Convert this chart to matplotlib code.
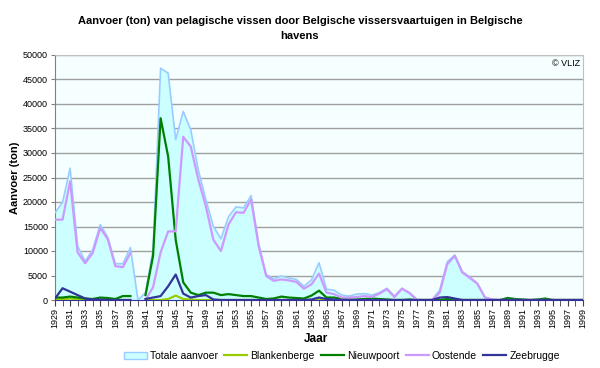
import numpy as np
import matplotlib.pyplot as plt
from matplotlib.patches import Patch
from matplotlib.lines import Line2D

plt.rcParams['font.family'] = ['Liberation Sans', 'DejaVu Sans']

nan = np.nan

jaren = np.arange(1929, 2000)

# waarden in 1000 ton
totaal = [17.8, 19.9, 26.9, 11.0, 7.9, 10.3, 15.4, 12.8, 7.4, 7.4,
          10.7, 0, 1.5, 10.3, 47.3, 46.3, 32.7, 38.5, 34.7, 26.5,
          20.5, 15.0, 12.5, 17.0, 19.0, 18.8, 21.3, 11.5, 5.2, 4.3,
          4.9, 4.5, 4.2, 2.8, 4.1, 7.6, 2.2, 2.0, 1.0, 0.8,
          1.2, 1.3, 1.0, 1.5, 2.4, 0.8, 2.4, 1.5, 0.1, 0,
          0.1, 2.0, 7.8, 9.2, 5.8, 4.7, 3.4, 0.6, 0.1, 0,
          0.5, 0.2, 0.1, 0, 0.1, 0.2, 0, 0, 0, 0, 0]

oostende = [16.4, 16.4, 24.2, 9.7, 7.5, 9.6, 14.7, 12.4, 6.9, 6.7,
            9.6, nan, 0, 2.6, 9.7, 14.0, 14.0, 33.3, 31.3, 24.6,
            19.1, 12.3, 10.0, 15.4, 17.9, 17.8, 20.5, 11.0, 4.9, 3.9,
            4.2, 4.0, 3.7, 2.3, 3.2, 5.4, 1.5, 1.2, 0.5, 0.5,
            0.6, 0.8, 0.6, 1.3, 2.2, 0.6, 2.3, 1.4, 0, 0,
            0, 1.5, 7.3, 9.0, 5.6, 4.5, 3.3, 0.5, 0.1, 0,
            0, 0, 0, 0, 0, 0, 0, 0, 0, 0, 0]

nieuwpoort = [0.5, 0.5, 0.7, 0.5, 0.3, 0.2, 0.5, 0.4, 0.2, 0.8,
              0.8, nan, 1.0, 9.0, 37.1, 29.3, 12.3, 3.6, 1.5, 1.0,
              1.5, 1.5, 1.0, 1.2, 1.0, 0.8, 0.8, 0.5, 0.2, 0.3,
              0.7, 0.5, 0.4, 0.3, 0.9, 1.9, 0.5, 0.5, 0.2, 0.1,
              0.1, 0.2, 0.3, 0.2, 0.1, 0, 0, 0.1, 0, 0,
              0, 0, 0.2, 0, 0, 0, 0, 0, 0, 0,
              0.4, 0.2, 0.1, 0, 0.1, 0.3, 0, 0, 0, 0, 0]

zeebrugge = [0.3, 2.4, 1.7, 1.0, 0.3, 0.1, 0.1, 0, 0, 0,
             0, nan, 0.2, 0.5, 0.8, 2.8, 5.2, 1.3, 0.5, 0.8,
             1.0, 0.1, 0, 0, 0, 0, 0, 0, 0, 0,
             0, 0, 0, 0, 0.1, 0.5, 0.2, 0.1, 0, 0,
             0, 0, 0, 0, 0, 0, 0, 0, 0, 0,
             0, 0.5, 0.6, 0.3, 0, 0, 0, 0, 0, 0,
             0, 0, 0, 0, 0, 0, 0, 0, 0, 0, 0]

blankenberge = [0.1, 0.2, 0.3, 0.1, 0, 0, 0, 0, 0, 0,
                0, nan, 0, 0, 0, 0.2, 0.9, 0.2, 0.1, 0,
                0, 0, 0, 0, 0, 0, 0, 0, 0, 0,
                0, 0, 0, 0, 0, 0, 0, 0, 0, 0,
                0, 0, 0, 0, 0, 0, 0, 0, 0, 0,
                0, 0, 0, 0, 0, 0, 0, 0, 0, 0,
                0, 0, 0, 0, 0, 0, 0, 0, 0, 0, 0]

kleuren = {'Blankenberge': '#99cc00', 'Nieuwpoort': '#008000',
           'Oostende': '#cc99ff', 'Zeebrugge': '#333399'}

fig = plt.figure(figsize=(6, 3.68), dpi=100)
ax = fig.add_axes([55 / 600, 1 - 300 / 368, 528 / 600, 245 / 368])
ax.set_facecolor('#f5ffff')

tot = np.array(totaal) * 1000
ax.fill_between(jaren, tot, 0, color='#ccffff', lw=0, zorder=2)
ax.plot(jaren, tot, color='#99ccff', lw=1.2, zorder=3)

for naam, reeks in [('Blankenberge', blankenberge), ('Nieuwpoort', nieuwpoort),
                    ('Oostende', oostende), ('Zeebrugge', zeebrugge)]:
    ax.plot(jaren, np.array(reeks) * 1000, color=kleuren[naam], lw=1.6, zorder=4)

ax.set_xlim(1929, 1999)
ax.set_ylim(0, 50000)
ax.set_yticks(np.arange(0, 50001, 5000))
ax.yaxis.grid(True, color='#a0a0a0', lw=1)
ax.set_axisbelow(True)
ax.set_xticks(np.arange(1929, 2000, 2))
ax.set_xticks(np.arange(1929, 2000, 1), minor=True)
ax.set_xticklabels([str(j) for j in range(1929, 2000, 2)], rotation=90, fontsize=6.5)
ax.tick_params(axis='y', labelsize=6.5, length=3, color='#808080', pad=2)
ax.tick_params(axis='x', which='both', length=4, color='#404040', pad=2)
for s in ax.spines.values():
    s.set_color('#c0c0c0')
ax.spines['left'].set_color('#808080')
ax.spines['bottom'].set_color('#333399')

ax.text(0.995, 0.985, '© VLIZ', transform=ax.transAxes, ha='right', va='top', fontsize=6.5)

fig.text(0.5, 1 - 28.5 / 368, 'Aanvoer (ton) van pelagische vissen door Belgische vissersvaartuigen in Belgische\nhavens',
         ha='center', va='center', fontsize=8, fontweight='bold', linespacing=1.6)
ax.set_ylabel('Aanvoer (ton)', fontsize=8, fontweight='bold')
ax.yaxis.set_label_coords(-35 / 528, 0.5)
fig.text(316 / 600, 1 - 339 / 368, 'Jaar', ha='center', va='center', fontsize=8.5, fontweight='bold')

handles = [Patch(facecolor='#ccffff', edgecolor='#99ccff', label='Totale aanvoer')]
for naam in ['Blankenberge', 'Nieuwpoort', 'Oostende', 'Zeebrugge']:
    handles.append(Line2D([], [], color=kleuren[naam], lw=1.6, label=naam))
fig.legend(handles=handles, loc='center', bbox_to_anchor=(342 / 600, 1 - 356 / 368), ncol=5,
           frameon=False, fontsize=7.5, handlelength=2.2, handletextpad=0.3, columnspacing=0.6)

fig.savefig('out.png', dpi=100)
